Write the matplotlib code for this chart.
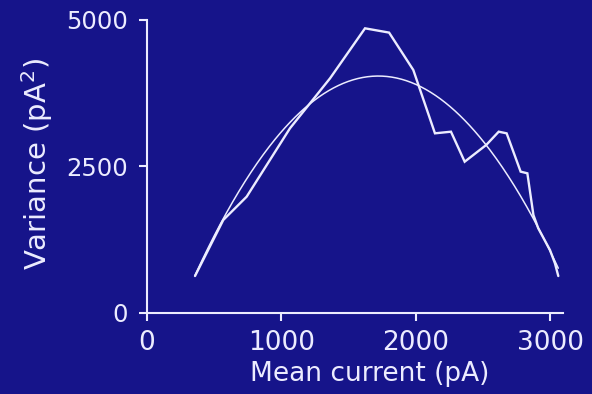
#!/usr/bin/env python3

import numpy as np
import matplotlib
matplotlib.use('Agg')
import matplotlib.pyplot as plt

# variance vs mean current, measured trace
mean_current = [357, 567, 741, 1063, 1361, 1621, 1800, 1980, 2141, 2260,
                2362, 2522, 2615, 2674, 2778, 2828, 2873, 2909, 2996, 3033, 3058]
variance = [631, 1587, 1985, 3152, 4005, 4858, 4785, 4147, 3066, 3094,
            2582, 2867, 3094, 3066, 2412, 2384, 1672, 1445, 1075, 848, 631]

# parabolic fit: var = i*I - I^2/N + bg
fit_i = 6.3
fit_N = 546
fit_bg = -1374

bg_color = '#16148a'
fg_color = '#ececff'

plt.rcParams['font.family'] = ['DejaVu Sans']
plt.rcParams['mathtext.default'] = 'regular'

fig = plt.figure(figsize=(5.92, 3.94), dpi=100, facecolor=bg_color)
ax = fig.add_axes([147 / 592, 81 / 394, 415.6 / 592, 293 / 394], facecolor=bg_color)

I = np.linspace(mean_current[0], mean_current[-1], 300)
fit = fit_i * I - I ** 2 / fit_N + fit_bg
ax.plot(I, fit, color=fg_color, lw=1.1, solid_capstyle='round')
ax.plot(mean_current, variance, color=fg_color, lw=1.7,
        solid_joinstyle='miter', solid_capstyle='round')

ax.set_xlim(0, 3090)
ax.set_ylim(0, 5000)
ax.set_xticks([0, 1000, 2000, 3000])
ax.set_yticks([0, 2500, 5000])

for side in ('top', 'right'):
    ax.spines[side].set_visible(False)
for side in ('left', 'bottom'):
    ax.spines[side].set_color(fg_color)
    ax.spines[side].set_linewidth(1.5)
ax.tick_params(colors=fg_color, width=1.5, length=6)
ax.tick_params(axis='x', pad=6, labelsize=19)
ax.tick_params(axis='y', pad=7.5, labelsize=17.5)

ax.set_xlabel('Mean current (pA)', color=fg_color, fontsize=19)
ax.set_ylabel('Variance (pA$^2$)', color=fg_color, fontsize=21)
ax.xaxis.set_label_coords(0.536, -0.163)
ax.yaxis.set_label_coords(-0.222, 0.509)

fig.savefig('out.png', dpi=100, facecolor=bg_color)
